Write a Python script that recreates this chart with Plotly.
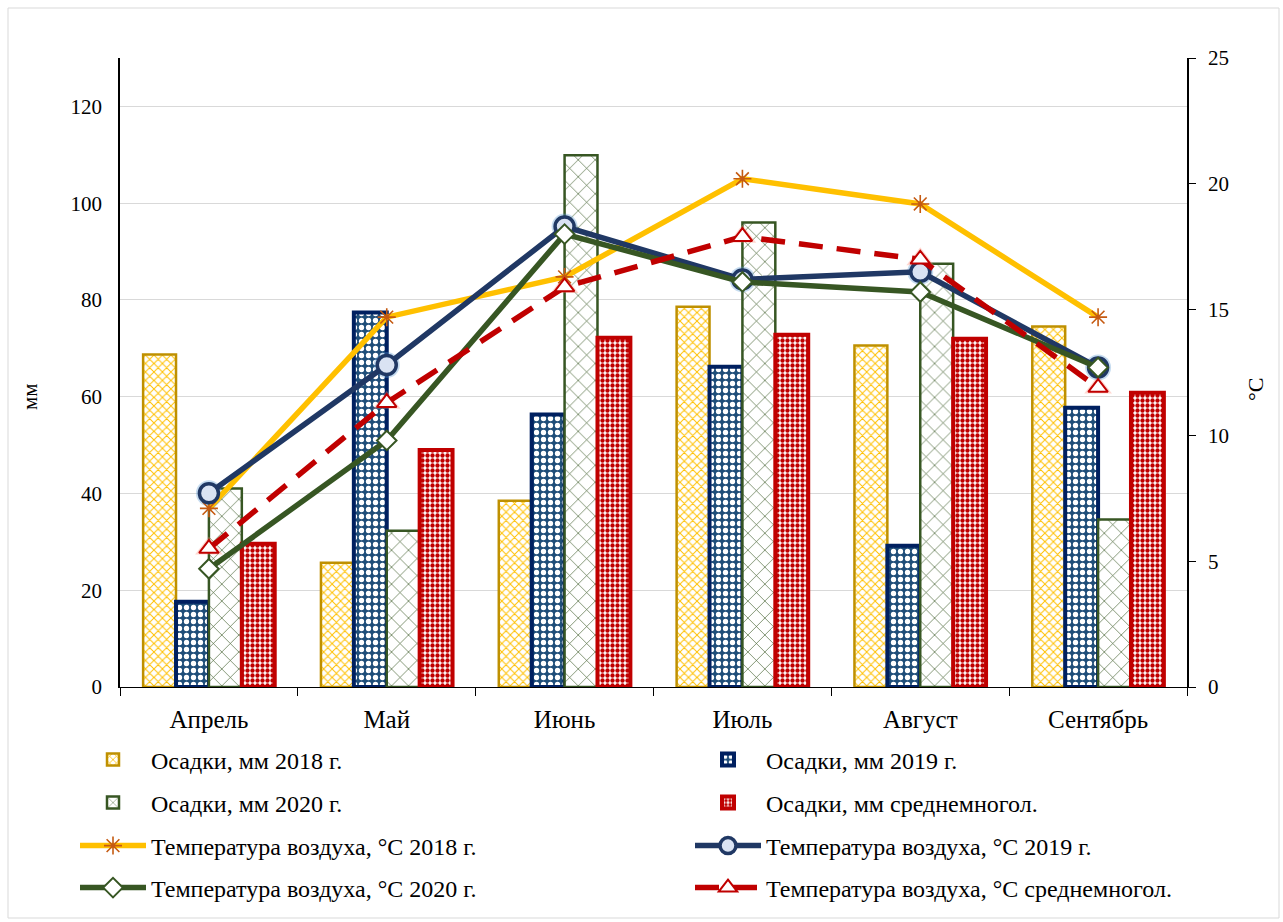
import plotly.graph_objects as go

# Months of the growing season
months = ["Апрель", "Май", "Июнь", "Июль", "Август", "Сентябрь"]

# Precipitation, mm
rain_2018 = [68.7, 25.7, 38.5, 78.6, 70.6, 74.5]
rain_2019 = [17.6, 77.4, 56.3, 66.2, 29.2, 57.7]
rain_2020 = [41.0, 32.3, 109.9, 96.0, 87.5, 34.6]
rain_norm = [29.6, 49.0, 72.2, 72.8, 72.0, 60.8]

# Air temperature, °C
temp_2018 = [7.1, 14.7, 16.3, 20.2, 19.2, 14.7]
temp_2019 = [7.7, 12.8, 18.3, 16.2, 16.5, 12.7]
temp_2020 = [4.7, 9.8, 18.0, 16.1, 15.7, 12.7]
temp_norm = [5.5, 11.3, 15.9, 17.9, 17.0, 11.9]

left_ticks = [0, 20, 40, 60, 80, 100, 120]
right_ticks = [0, 5, 10, 15, 20, 25]

SERIF = "Liberation Serif, Times New Roman, serif"

plot_top, plot_bottom, plot_left, plot_right = 58, 687, 120, 1187
H = plot_bottom - plot_top
W = plot_right - plot_left


def py(pix):
    return (plot_bottom - pix) / H


def px(pix):
    return (pix - plot_left) / W


fig = go.Figure()

bar_styles = [
    ("Осадки, мм 2018 г.", rain_2018, "#BF9000", 2.5,
     dict(shape="x", fgcolor="#FFC000", bgcolor="#FFFFFF", size=6, solidity=0.3, fillmode="replace"), "legend"),
    ("Осадки, мм 2019 г.", rain_2019, "#002060", 4,
     dict(shape=".", fgcolor="#FFFFFF", bgcolor="#1F4E79", size=7, solidity=0.45, fillmode="replace"), "legend2"),
    ("Осадки, мм 2020 г.", rain_2020, "#375623", 2.5,
     dict(shape="x", fgcolor="#375623", bgcolor="#FFFFFF", size=12, solidity=0.1, fillmode="replace"), "legend3"),
    ("Осадки, мм среднемногол.", rain_norm, "#C00000", 4,
     dict(shape=".", fgcolor="#C00000", bgcolor="#FFFFFF", size=5, solidity=0.6, fillmode="replace"), "legend4"),
]
for name, vals, edge, lw, pattern, leg in bar_styles:
    fig.add_trace(go.Bar(
        x=months, y=vals, name=name, yaxis="y", legend=leg,
        marker=dict(color="#FFFFFF", line=dict(color=edge, width=lw), pattern=pattern),
    ))

# soft glow under the 2019 circles and the long-term triangles
fig.add_trace(go.Scatter(
    x=months, y=temp_2019, yaxis="y2", mode="markers", showlegend=False, hoverinfo="skip",
    marker=dict(symbol="circle", size=26, color="rgba(91,155,213,0.35)", line=dict(width=0)),
))
fig.add_trace(go.Scatter(
    x=months, y=temp_norm, yaxis="y2", mode="markers", showlegend=False, hoverinfo="skip",
    marker=dict(symbol="triangle-up", size=24, color="rgba(255,140,120,0.35)", line=dict(width=0)),
))

line_styles = [
    ("Температура воздуха, °C 2018 г.", temp_2018, "#FFC000", "solid",
     dict(symbol="asterisk-open", size=15, color="#C55A11", line=dict(color="#C55A11", width=1.6)), "legend5"),
    ("Температура воздуха, °C 2019 г.", temp_2019, "#203864", "solid",
     dict(symbol="circle", size=19, color="#DAE3F3", line=dict(color="#203864", width=3.5)), "legend6"),
    ("Температура воздуха, °C 2020 г.", temp_2020, "#375623", "solid",
     dict(symbol="diamond", size=15, color="#FFFFFF", line=dict(color="#375623", width=2)), "legend7"),
    ("Температура воздуха, °C среднемногол.", temp_norm, "#C00000", "24px,14px",
     dict(symbol="triangle-up", size=17, color="#FFFFFF", line=dict(color="#C00000", width=2)), "legend8"),
]
for name, vals, col, dash, mk, leg in line_styles:
    fig.add_trace(go.Scatter(
        x=months, y=vals, name=name, yaxis="y2", legend=leg, mode="lines+markers",
        line=dict(color=col, width=5.5, dash=dash), marker=mk,
    ))

# legend grid: two columns, four rows beneath the plot
col_x = [75, 690]
row_y = [760, 803, 846, 888]
legends = {}
for i in range(8):
    key = "legend" if i == 0 else f"legend{i + 1}"
    legends[key] = dict(
        orientation="h", xanchor="left", yanchor="middle",
        x=px(col_x[i % 2]), y=py(row_y[i // 2]),
        font=dict(family=SERIF, size=24, color="#000000"),
        itemwidth=66, bgcolor="rgba(0,0,0,0)",
    )

fig.update_layout(
    width=1283, height=922,
    margin=dict(l=plot_left, r=1283 - plot_right, t=plot_top, b=922 - plot_bottom),
    paper_bgcolor="#FFFFFF", plot_bgcolor="#FFFFFF",
    barmode="group", bargap=0.26, bargroupgap=0,
    font=dict(family=SERIF, size=20, color="#000000"),
    xaxis=dict(
        type="category", showline=True, linecolor="#000000", linewidth=1.3,
        ticks="outside", tickson="boundaries", ticklen=8, tickcolor="#000000",
        showgrid=False, tickfont=dict(family=SERIF, size=25), ticklabelstandoff=10,
    ),
    yaxis=dict(
        range=[0, 130], tickvals=left_ticks, showline=True, linecolor="#000000", linewidth=1.5,
        showgrid=True, gridcolor="#D9D9D9", gridwidth=1.2, zeroline=False,
        ticks="", tickfont=dict(family=SERIF, size=21), ticklabelstandoff=12,
    ),
    yaxis2=dict(
        range=[0, 25], tickvals=right_ticks, overlaying="y", side="right",
        showline=True, linecolor="#000000", linewidth=1.5, showgrid=False, zeroline=False,
        ticks="outside", ticklen=7, tickcolor="#000000",
        tickfont=dict(family=SERIF, size=21), ticklabelstandoff=8,
    ),
    annotations=[
        dict(text="мм", xref="paper", yref="paper", x=px(30), y=py(397), showarrow=False,
             xanchor="center", yanchor="middle", textangle=-90, font=dict(family=SERIF, size=21)),
        dict(text="°C", xref="paper", yref="paper", x=px(1255), y=py(390), showarrow=False,
             xanchor="center", yanchor="middle", textangle=-90, font=dict(family=SERIF, size=22)),
    ],
    shapes=[
        dict(type="rect", xref="paper", yref="paper", x0=px(8), x1=px(1279), y0=py(918), y1=py(8),
             line=dict(color="#D9D9D9", width=1), layer="below"),
    ],
    **legends,
)

fig.write_html("out.html")
